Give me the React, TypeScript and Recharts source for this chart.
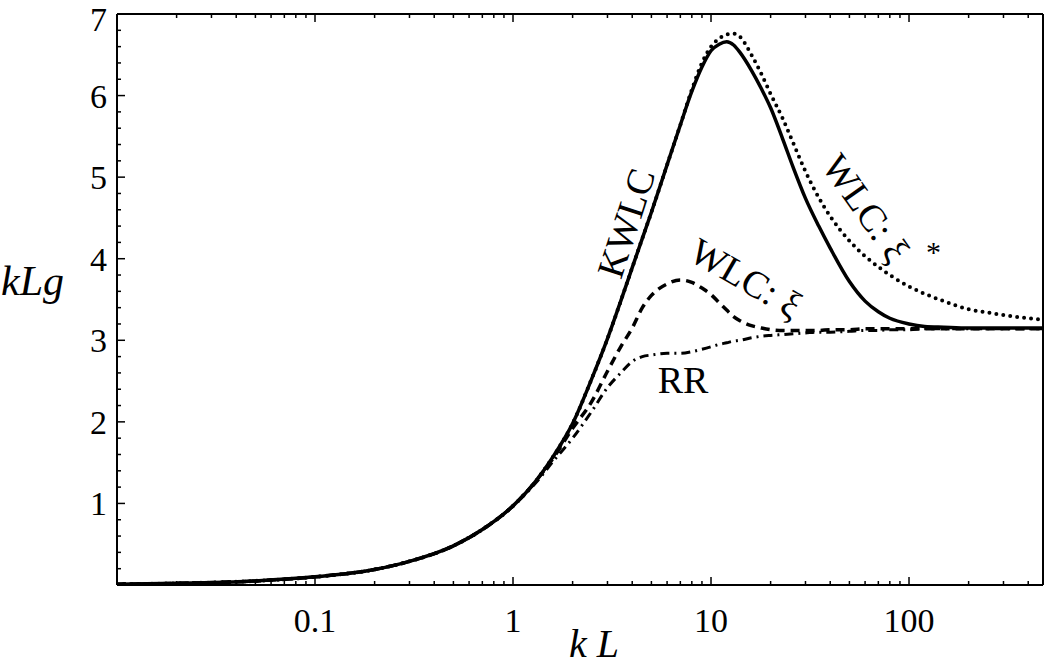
// kLg vs kL — KWLC, WLC: ξ, WLC: ξ*, RR curves on a log x axis
import { LineChart, Line, XAxis, YAxis } from 'recharts';

const SERIF = "'Liberation Serif', 'DejaVu Serif', serif";

// sampled kL values (x)
const kL = [
  0.01, 0.02, 0.05, 0.1, 0.2, 0.3, 0.5, 0.7,
  1, 1.3, 1.6, 2, 2.5, 3, 3.5, 4, 4.5, 5,
  6, 7, 8, 9, 10, 11, 12, 13, 14, 16, 18, 20,
  23, 26, 30, 35, 40, 50, 60, 70, 80, 100,
  120, 150, 200, 250, 300, 400, 475,
];

// kLg for each model
const kwlc = [
  0.01, 0.02, 0.05, 0.1, 0.19, 0.29, 0.48, 0.68,
  0.97, 1.27, 1.58, 1.98, 2.53, 3.02, 3.48, 3.89, 4.25, 4.57,
  5.15, 5.64, 6.05, 6.35, 6.55, 6.63, 6.66, 6.62, 6.53, 6.31, 6.08, 5.85,
  5.47, 5.12, 4.74, 4.4, 4.13, 3.72, 3.48, 3.35, 3.27, 3.2,
  3.17, 3.16, 3.15, 3.15, 3.15, 3.15, 3.15,
];
const wlcXiStar = [
  0.01, 0.02, 0.05, 0.1, 0.19, 0.29, 0.48, 0.68,
  0.97, 1.27, 1.58, 1.98, 2.53, 3.02, 3.48, 3.89, 4.25, 4.57,
  5.15, 5.64, 6.07, 6.4, 6.6, 6.7, 6.75, 6.76, 6.72, 6.5, 6.26, 6.02,
  5.72, 5.42, 5.07, 4.75, 4.52, 4.22, 4.03, 3.9, 3.8, 3.66,
  3.57, 3.48, 3.38, 3.34, 3.31, 3.27, 3.25,
];
const wlcXi = [
  0.01, 0.02, 0.05, 0.1, 0.19, 0.29, 0.48, 0.68,
  0.97, 1.27, 1.56, 1.92, 2.25, 2.62, 2.92, 3.15, 3.4, 3.55,
  3.69, 3.74, 3.71, 3.64, 3.56, 3.46, 3.37, 3.29, 3.24, 3.18, 3.15, 3.13,
  3.12, 3.12, 3.12, 3.12, 3.13, 3.13, 3.14, 3.14, 3.14, 3.14,
  3.14, 3.14, 3.14, 3.14, 3.14, 3.14, 3.14,
];
const rr = [
  0.01, 0.02, 0.05, 0.1, 0.19, 0.29, 0.48, 0.68,
  0.97, 1.25, 1.52, 1.8, 2.13, 2.42, 2.6, 2.74, 2.8, 2.82,
  2.84, 2.84, 2.86, 2.89, 2.92, 2.95, 2.97, 2.99, 3.0, 3.03, 3.05, 3.06,
  3.07, 3.08, 3.09, 3.1, 3.1, 3.11, 3.12, 3.12, 3.13, 3.13,
  3.14, 3.14, 3.14, 3.14, 3.14, 3.14, 3.14,
];

const xMajorTicks = [0.01, 0.1, 1, 10, 100];
const xMajorLabels = ['', '0.1', '1', '10', '100'];
const xMinorTicks = [
  0.02, 0.03, 0.04, 0.05, 0.06, 0.07, 0.08, 0.09,
  0.2, 0.3, 0.4, 0.5, 0.6, 0.7, 0.8, 0.9,
  2, 3, 4, 5, 6, 7, 8, 9,
  20, 30, 40, 50, 60, 70, 80, 90,
  200, 300, 400,
];
const yMajorTicks = [0, 1, 2, 3, 4, 5, 6, 7];
const yMajorLabels = ['', '1', '2', '3', '4', '5', '6', '7'];
const yMinorTicks = [
  0.2, 0.4, 0.6, 0.8, 1.2, 1.4, 1.6, 1.8, 2.2, 2.4, 2.6, 2.8,
  3.2, 3.4, 3.6, 3.8, 4.2, 4.4, 4.6, 4.8, 5.2, 5.4, 5.6, 5.8,
  6.2, 6.4, 6.6, 6.8,
];

const data = kL.map((x, i) => ({
  kL: x,
  kwlc: kwlc[i],
  wlcXiStar: wlcXiStar[i],
  wlcXi: wlcXi[i],
  rr: rr[i],
}));

/** Bottom / top x ticks pointing into the frame */
function XTick(props: any) {
  const { x, y, payload, top } = props;
  const idx = xMajorTicks.indexOf(payload.value);
  const major = idx >= 0;
  const len = major ? 8 : 4;
  const dir = top ? 1 : -1;
  return (
    <g>
      <line x1={x} x2={x} y1={y} y2={y + dir * len} stroke="#000" strokeWidth={1.5} />
      {!top && major && (
        <text x={x} y={y + 47} textAnchor="middle" fontFamily={SERIF} fontSize={34} fill="#000">
          {xMajorLabels[idx]}
        </text>
      )}
    </g>
  );
}

/** Left y ticks pointing into the frame */
function YTick(props: any) {
  const { x, y, payload } = props;
  const idx = yMajorTicks.indexOf(payload.value);
  const major = idx >= 0;
  const len = major ? 8 : 4;
  // the top label sits against the page edge; nudge it down so it stays whole
  const dy = payload.value === 7 ? 17 : 12;
  return (
    <g>
      <line x1={x} x2={x + len} y1={y} y2={y} stroke="#000" strokeWidth={1.5} />
      {major && (
        <text x={x - 10} y={y + dy} textAnchor="end" fontFamily={SERIF} fontSize={34} fill="#000">
          {yMajorLabels[idx]}
        </text>
      )}
    </g>
  );
}

export default function App() {
  return (
    <div style={{ position: 'absolute', left: 0, top: 0, width: 1050, height: 667, background: '#fff' }}>
      <LineChart
        width={1050}
        height={667}
        data={data}
        margin={{ top: 0, right: 0, bottom: 0, left: 0 }}
      >
        <XAxis
          dataKey="kL"
          type="number"
          scale="log"
          domain={[0.01, 475]}
          allowDataOverflow
          ticks={[...xMajorTicks, ...xMinorTicks]}
          interval={0}
          height={82}
          tickSize={0}
          tickMargin={0}
          tickLine={false}
          axisLine={{ stroke: '#000', strokeWidth: 2 }}
          tick={<XTick />}
        />
        <XAxis
          xAxisId="top"
          orientation="top"
          dataKey="kL"
          type="number"
          scale="log"
          domain={[0.01, 475]}
          allowDataOverflow
          ticks={[...xMajorTicks, ...xMinorTicks]}
          interval={0}
          height={14}
          tickSize={0}
          tickMargin={0}
          tickLine={false}
          axisLine={{ stroke: '#000', strokeWidth: 2 }}
          tick={<XTick top />}
        />
        <YAxis
          type="number"
          domain={[0, 7]}
          allowDataOverflow
          ticks={[...yMajorTicks, ...yMinorTicks]}
          interval={0}
          width={117}
          tickSize={0}
          tickMargin={0}
          tickLine={false}
          axisLine={{ stroke: '#000', strokeWidth: 2 }}
          tick={<YTick />}
        />
        <YAxis
          yAxisId="right"
          orientation="right"
          type="number"
          domain={[0, 7]}
          width={7}
          tick={false}
          tickLine={false}
          axisLine={{ stroke: '#000', strokeWidth: 2 }}
        />
        <Line
          type="monotone"
          dataKey="wlcXiStar"
          stroke="#000"
          strokeWidth={4}
          strokeDasharray="0 7"
          strokeLinecap="round"
          dot={false}
          isAnimationActive={false}
        />
        <Line
          type="monotone"
          dataKey="wlcXi"
          stroke="#000"
          strokeWidth={3.5}
          strokeDasharray="9 6"
          dot={false}
          isAnimationActive={false}
        />
        <Line
          type="monotone"
          dataKey="rr"
          stroke="#000"
          strokeWidth={3}
          strokeDasharray="9 5 2 5"
          dot={false}
          isAnimationActive={false}
        />
        <Line
          type="monotone"
          dataKey="kwlc"
          stroke="#000"
          strokeWidth={3.5}
          dot={false}
          isAnimationActive={false}
        />
      </LineChart>
      {/* axis titles and curve annotations */}
      <svg width={1050} height={667} style={{ position: 'absolute', left: 0, top: 0, pointerEvents: 'none' }}>
        <g fontFamily={SERIF} fill="#000">
          <text x={1} y={295} fontSize={42} fontStyle="italic">kLg</text>
          <text x={594} y={657} fontSize={40} fontStyle="italic" textAnchor="middle">k L</text>
          <text x={626} y={223} fontSize={38} textAnchor="middle" dominantBaseline="central" transform="rotate(-72 626 223)">KWLC</text>
          <text x={746} y={278} fontSize={38} textAnchor="middle" dominantBaseline="central" transform="rotate(30 746 278)">WLC: ξ</text>
          <text x={866} y={208} fontSize={38} textAnchor="middle" dominantBaseline="central" transform="rotate(55 866 208)">WLC: ξ</text>
          <text x={926} y={262} fontSize={30}>*</text>
          <text x={683} y={393} fontSize={38} textAnchor="middle">RR</text>
        </g>
      </svg>
    </div>
  );
}
